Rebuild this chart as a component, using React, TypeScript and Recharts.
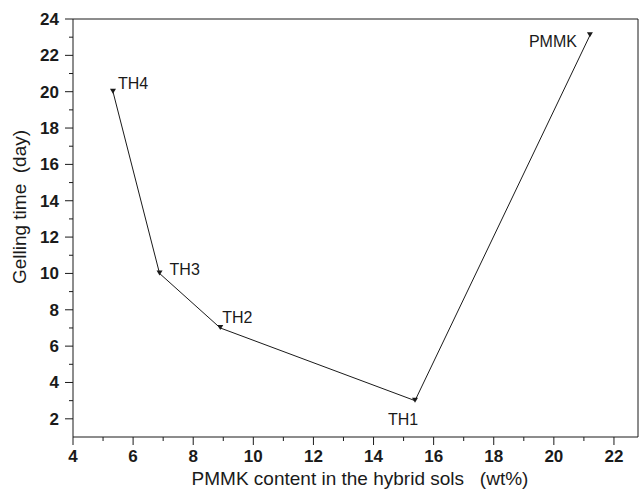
import { Customized, LabelList, Line, LineChart, ReferenceLine, XAxis, YAxis } from 'recharts'

// gel samples
const SAMPLES = ['TH4', 'TH3', 'TH2', 'TH1', 'PMMK']
const PMMK_CONTENT = [5.33, 6.88, 8.9, 15.38, 21.2] // wt%
const GELLING_TIME = [20, 10, 7, 3, 23.1] // day

const X_TICKS = [4, 5, 6, 7, 8, 9, 10, 11, 12, 13, 14, 15, 16, 17, 18, 19, 20, 21, 22]
const Y_TICKS = [2, 3, 4, 5, 6, 7, 8, 9, 10, 11, 12, 13, 14, 15, 16, 17, 18, 19, 20, 21, 22, 23, 24]

const X_MAX = 22.8
const Y_MAX = 24

const data = SAMPLES.map((name, i) => ({ name, x: PMMK_CONTENT[i], y: GELLING_TIME[i] }))

const INK = '#1a1a1a'
const FONT = '"Liberation Sans", Arial, sans-serif'

// where each sample name sits relative to its point
const LABEL_OFFSET: Record<string, { dx: number; dy: number; anchor: 'start' | 'middle' | 'end' }> = {
  TH4: { dx: 5, dy: -3, anchor: 'start' },
  TH3: { dx: 10, dy: 2, anchor: 'start' },
  TH2: { dx: 2, dy: -5, anchor: 'start' },
  TH1: { dx: -12, dy: 24, anchor: 'middle' },
  PMMK: { dx: -13, dy: 12, anchor: 'end' },
}

function XTick(props: any) {
  const { x, y, payload } = props
  const major = payload.value % 2 === 0
  return (
    <g>
      <line x1={x} x2={x} y1={y} y2={y + (major ? 8 : 4)} stroke={INK} strokeWidth={1} />
      {major && (
        <text x={x} y={y + 25} textAnchor="middle" fontSize={17} fontWeight="bold" fill={INK} fontFamily={FONT}>
          {payload.value}
        </text>
      )}
    </g>
  )
}

function YTick(props: any) {
  const { x, y, payload } = props
  const major = payload.value % 2 === 0
  return (
    <g>
      <line x1={x} x2={x - (major ? 8 : 4)} y1={y} y2={y} stroke={INK} strokeWidth={1} />
      {major && (
        <text x={x - 14} y={y + 6} textAnchor="end" fontSize={17} fontWeight="bold" fill={INK} fontFamily={FONT}>
          {payload.value}
        </text>
      )}
    </g>
  )
}

function TriangleDot(props: any) {
  const { cx, cy } = props
  if (cx == null || cy == null) return null
  return <path d={`M${cx - 3},${cy - 3} L${cx + 3},${cy - 3} L${cx},${cy + 2} Z`} fill={INK} />
}

function SampleLabel(props: any) {
  const { x, y, value } = props
  const o = LABEL_OFFSET[value] || { dx: 5, dy: -3, anchor: 'start' }
  return (
    <text x={x + o.dx} y={y + o.dy} textAnchor={o.anchor} fontSize={16} fill={INK} fontFamily={FONT}>
      {value}
    </text>
  )
}

function AxisTitles() {
  return (
    <g fontFamily={FONT} fill={INK} fontSize={19}>
      <text x={360} y={485} textAnchor="middle" xmlSpace="preserve">
        PMMK content in the hybrid sols   (wt%)
      </text>
      <text x={26} y={207} textAnchor="middle" transform="rotate(-90 26 207)" xmlSpace="preserve">
        Gelling time  (day)
      </text>
    </g>
  )
}

export default function App() {
  return (
    <div style={{ width: 640, height: 496, background: '#fff' }}>
      <style>{'body{margin:0}'}</style>
      <LineChart width={640} height={496} data={data} margin={{ top: 19, right: 2, left: 0, bottom: 0 }}>
        <XAxis
          dataKey="x"
          type="number"
          domain={[4, X_MAX]}
          ticks={X_TICKS}
          interval={0}
          height={59}
          tickSize={0}
          tickMargin={0}
          tick={<XTick />}
          axisLine={{ stroke: INK }}
          tickLine={false}
        />
        <YAxis
          dataKey="y"
          type="number"
          domain={[1, Y_MAX]}
          ticks={Y_TICKS}
          interval={0}
          width={73}
          tickSize={0}
          tickMargin={0}
          tick={<YTick />}
          axisLine={{ stroke: INK }}
          tickLine={false}
        />
        {/* frame: top and right edges */}
        <ReferenceLine y={Y_MAX} stroke={INK} strokeWidth={1} ifOverflow="extendDomain" />
        <ReferenceLine x={X_MAX} stroke={INK} strokeWidth={1} ifOverflow="extendDomain" />
        <Line
          type="linear"
          dataKey="y"
          stroke={INK}
          strokeWidth={1}
          dot={<TriangleDot />}
          activeDot={false}
          isAnimationActive={false}
        >
          <LabelList dataKey="name" content={<SampleLabel />} />
        </Line>
        <Customized component={AxisTitles} />
      </LineChart>
    </div>
  )
}
